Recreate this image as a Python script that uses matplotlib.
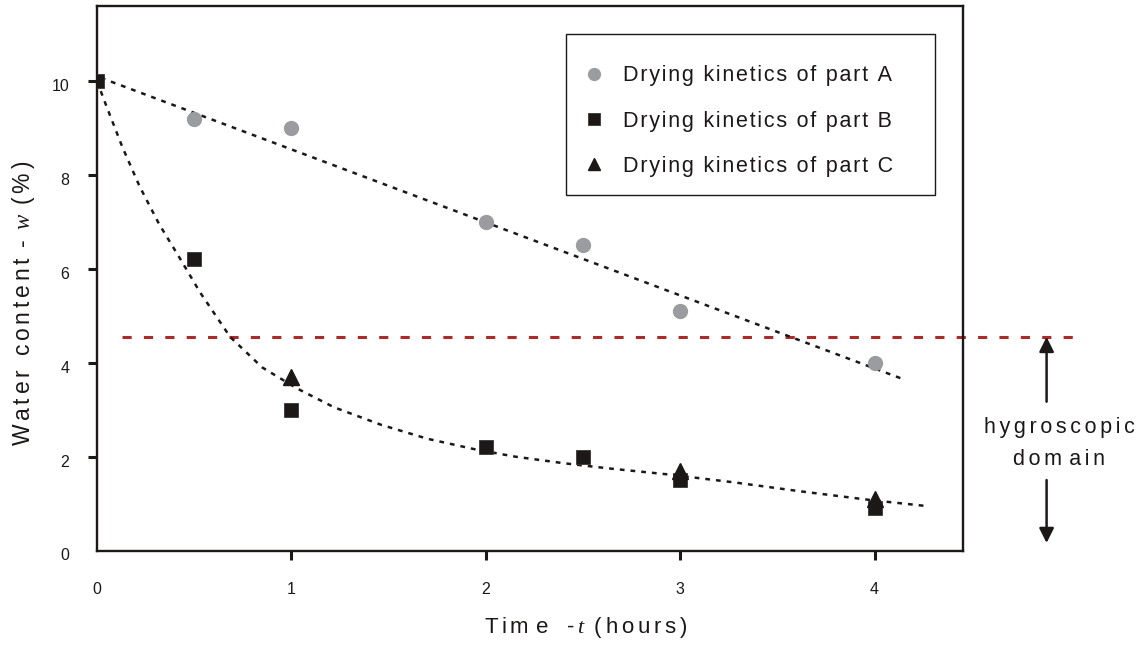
import matplotlib
matplotlib.use('Agg')
from matplotlib import pyplot as plt
import matplotlib.transforms as mtransforms
from matplotlib.patches import Rectangle

# values
time_a = [0.5, 1, 2, 2.5, 3, 4]
water_a = [9.2, 9.0, 7.0, 6.5, 5.1, 4.0]
time_b = [0, 0.5, 1, 2, 2.5, 3, 4]
water_b = [10.0, 6.2, 3.0, 2.2, 2.0, 1.5, 0.9]
time_c = [1, 3, 4]
water_c = [3.7, 1.7, 1.1]

# regression curves
fit_a_t = [0.02, 4.16]
fit_a_w = [10.07, 3.63]
fit_bc_t = [0.0, 0.05, 0.13, 0.22, 0.32, 0.43, 0.53, 0.685, 0.85, 1.03, 1.22,
            1.46, 1.70, 1.94, 2.15, 2.40, 2.63, 2.94, 3.28, 3.62, 3.97, 4.26]
fit_bc_w = [10.0, 9.45, 8.6, 7.75, 6.95, 6.2, 5.5, 4.55, 3.9, 3.45, 3.05,
            2.68, 2.38, 2.16, 2.0, 1.86, 1.75, 1.62, 1.45, 1.26, 1.08, 0.95]

hygro_limit = 4.55
limit_span = [0.13, 5.03]
arrow_x = 4.885
arrow_up = (3.17, hygro_limit)
arrow_down = (1.50, 0.16)

x_ticks = [0, 1, 2, 3, 4]
y_ticks = [0, 2, 4, 6, 8, 10]

SP = '\u2006'
HAIR = '\u200a'
FONT = ['Liberation Sans', 'DejaVu Sans']


def spread(s, gap=SP):
    return gap.join(s)


plt.rcParams['font.family'] = FONT
plt.rcParams['mathtext.fontset'] = 'custom'
plt.rcParams['mathtext.it'] = 'Liberation Serif:italic'
plt.rcParams['mathtext.rm'] = 'Liberation Sans'

black = '#1c1818'
grey = '#9a9ca0'
red = '#ab2a2a'

W, H = 1145, 647
fig = plt.figure(figsize=(W / 100, H / 100), dpi=100)
ax = fig.add_axes([97 / W, 1 - 550.5 / H, 866 / W, 544.5 / H])

ax.plot(limit_span, [hygro_limit, hygro_limit], color=red, lw=2.2,
        ls=(0, (3, 4)), clip_on=False, zorder=1)
ax.plot(fit_a_t, fit_a_w, color=black, lw=1.8, ls=(0, (1.9, 2.4)), zorder=2)
ax.plot(fit_bc_t, fit_bc_w, color=black, lw=1.8, ls=(0, (1.9, 2.4)), zorder=2)

ax.plot(time_a, water_a, 'o', color=grey, ms=10, mec=grey,
        label=spread('Drying kinetics of part A', HAIR), zorder=3)
ax.plot(time_b, water_b, 's', color=black, ms=9.5, mec='#3a3636', mew=0.6,
        label=spread('Drying kinetics of part B', HAIR), zorder=3)
ax.plot(time_c, water_c, '^', color=black, ms=11, mec=black,
        label=spread('Drying kinetics of part C', HAIR), zorder=4)

ax.set_xlim(0, 4.455)
ax.set_ylim(0, 11.6)
ax.set_xticks(x_ticks)
ax.set_yticks(y_ticks)
ax.tick_params(axis='both', direction='out', length=6.5, width=2.2,
               color=black, labelsize=11.5, labelcolor=black)
ax.tick_params(axis='x', pad=16)
ax.tick_params(axis='y', pad=13.5)
ax.xaxis.get_major_ticks()[0].tick1line.set_visible(False)
ax.yaxis.get_major_ticks()[0].tick1line.set_visible(False)
for sp in ax.spines.values():
    sp.set_linewidth(1.7)
    sp.set_color(black)

shift = mtransforms.ScaledTranslation(0, -4 / 100, fig.dpi_scale_trans)
for lab in ax.get_yticklabels():
    lab.set_transform(lab.get_transform() + shift)

# hygroscopic domain arrows
for start, end in [arrow_up, arrow_down]:
    ax.annotate('', xy=(arrow_x, end), xytext=(arrow_x, start),
                arrowprops=dict(arrowstyle='-|>', color=black, lw=1.8,
                                mutation_scale=22, shrinkA=0, shrinkB=0),
                annotation_clip=False)
ax.text(4.95, 2.61, spread('hygroscopic'), ha='center', va='center',
        fontsize=15.5, color=black)
ax.text(4.95, 1.93, spread('dom') + SP + SP + spread('ain'), ha='center',
        va='center', fontsize=15.5, color=black)

# axis titles
fig.text(586 / W, 1 - 628 / H,
         spread('Tim') + SP + SP + 'e' + '   -' + SP + '$t$' + SP + ' ' + spread('(hours)'),
         ha='center', va='center', fontsize=16, color=black)
fig.text(24 / W, 1 - 303 / H,
         spread('Water content') + ' ' + SP + '-' + SP + ' $w$' + SP + ' ' + spread('(%)'),
         ha='center', va='center', rotation=90, fontsize=16.5, color=black)

# legend box drawn separately so the padding matches the original
fig.patches.append(Rectangle((566 / W, 1 - 195 / H), 369 / W, 161 / H,
                             transform=fig.transFigure, fill=False,
                             edgecolor=black, lw=1.0))
leg = ax.legend(loc='upper left', bbox_to_anchor=(583.2 / W, 1 - 65.4 / H),
                bbox_transform=fig.transFigure, borderaxespad=0, borderpad=0,
                fontsize=15.5, frameon=False, handlelength=1.0,
                handletextpad=0.85, labelspacing=1.12, numpoints=1,
                markerscale=0.85)
for t in leg.get_texts():
    t.set_color(black)

fig.savefig('out.png', dpi=100)
